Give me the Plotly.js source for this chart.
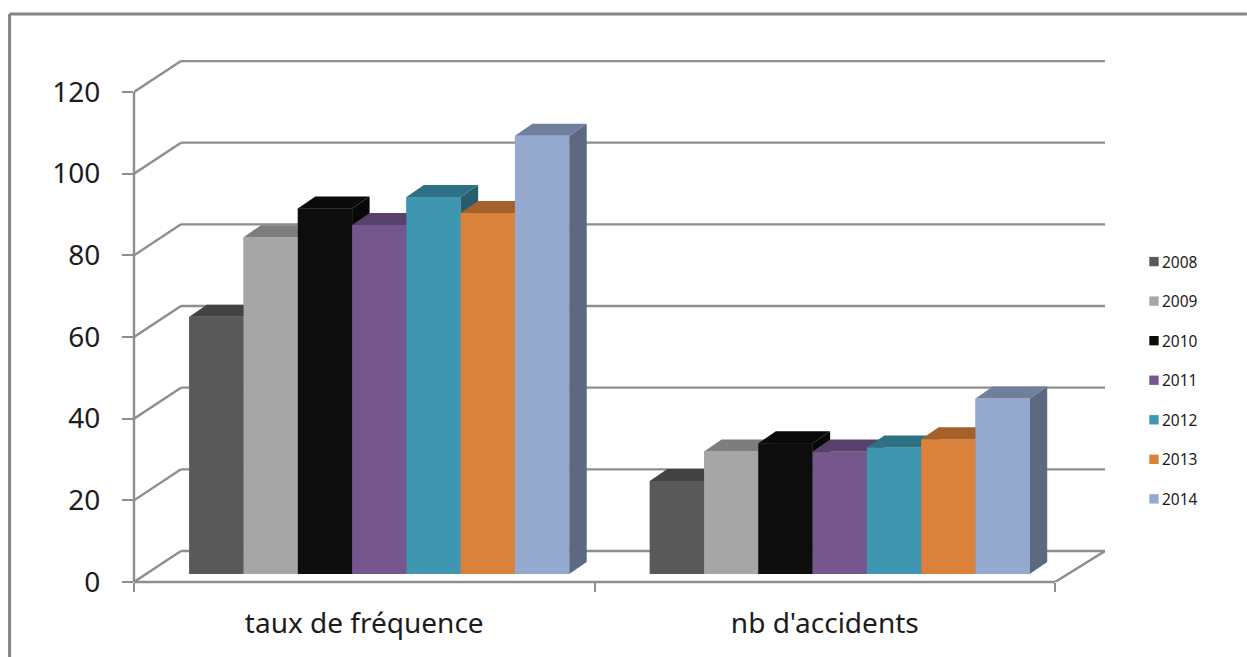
<!DOCTYPE html>
<html>
<head>
<meta charset="utf-8">
<script src="https://cdn.plot.ly/plotly-3.0.1.min.js"></script>
<style>
html,body{margin:0;padding:0;background:#fff}#chart{width:1247px;height:657px}
.legend .legendpoints path{transform:translate(32px,0px) scale(0.78)}
</style>
</head>
<body>
<div id="chart"></div>
<script>
var categories = ["taux de fréquence", "nb d'accidents"];
var years = ["2008", "2009", "2010", "2011", "2012", "2013", "2014"];
var values2008 = [63, 22.8];
var values2009 = [82.5, 30];
var values2010 = [89.5, 32];
var values2011 = [85.5, 30];
var values2012 = [92.3, 31];
var values2013 = [88.4, 33];
var values2014 = [107.3, 43];
var seriesValues = [values2008, values2009, values2010, values2011, values2012, values2013, values2014];
var colors = ["#595959", "#A6A6A6", "#0D0D0D", "#75578D", "#3F96B0", "#DA813B", "#95A9CF"];
var yTicks = [0, 20, 40, 60, 80, 100, 120];

var W = 1247, H = 657, L = 133.5, R = 1105, T = 60, B = 582;
var xUnit = 460.75, yUnit = 490 / 120;
var wallDx = 47 / xUnit, wallDy = 31 / yUnit;
var barDx = 17.5 / xUnit, barDy = 12 / yUnit;
var lift = 8 / yUnit, shift = 15 / xUnit, gap = 0.175;
var barW = (1 - gap) / years.length;
var gridColor = "#8E8E8E";

function shade(hex, k) {
  var n = parseInt(hex.slice(1), 16);
  return "rgb(" + [(n >> 16) & 255, (n >> 8) & 255, n & 255].map(function (c) { return Math.round(c * k); }).join(",") + ")";
}
function poly(color, xs, ys) {
  return {type: "scatter", mode: "lines", x: xs, y: ys, fill: "toself", fillcolor: color,
          line: {width: 0, color: color}, hoverinfo: "skip", showlegend: false};
}

var traces = [];
years.forEach(function (yr, i) {
  traces.push({type: "bar", name: yr, legendgroup: yr,
    x: categories.map(function (c, k) { return k + shift; }),
    y: seriesValues[i], base: lift, marker: {color: colors[i], line: {width: 0}},
    customdata: categories, hovertemplate: "%{customdata}<br>" + yr + " : %{y}<extra></extra>"});
});
years.forEach(function (yr, i) {
  var sx = [], sy = [], tx = [], ty = [], fx = [], fy = [];
  seriesValues[i].forEach(function (v, k) {
    var x0 = k + shift - (1 - gap) / 2 + i * barW, x1 = x0 + barW, top = v + lift;
    sx.push(x1, x1 + barDx, x1 + barDx, x1, x1, null);
    sy.push(lift, lift + barDy, top + barDy, top, lift, null);
    tx.push(x0, x0 + barDx, x1 + barDx, x1, x0, null);
    ty.push(top, top + barDy, top + barDy, top, top, null);
    fx.push(x0, x1, x1, x0, x0, null);
    fy.push(lift, lift, top, top, lift, null);
  });
  traces.push(poly(shade(colors[i], 0.62), sx, sy));
  traces.push(poly(shade(colors[i], 0.75), tx, ty));
  traces.push(poly(colors[i], fx, fy));
});

var xMin = -0.5, xMax = 1.5, xEnd = xMin + (R - L) / xUnit;
var shapes = [];
function seg(x0, y0, x1, y1, xref, yref) {
  shapes.push({type: "line", layer: "below", xref: xref || "x", yref: yref || "y", x0: x0, y0: y0, x1: x1, y1: y1,
               line: {color: gridColor, width: 2.4}});
}
yTicks.forEach(function (v) {
  seg(xMin, v, xMin + wallDx, v + wallDy);
  seg(xMin + wallDx, v + wallDy, xEnd, v + wallDy);
});
seg(xMax, 0, xEnd, wallDy);
seg(0, 0, 0, yTicks[yTicks.length - 1], "paper", "y");
seg(xMin, 0, xMax, 0, "x", "paper");
function px(v) { return (v - L) / (R - L); }
function py(v) { return (B - v) / (B - T); }
shapes.push({type: "line", xref: "paper", yref: "paper", x0: px(9), x1: px(W), y0: py(14), y1: py(14), line: {color: "#868686", width: 3}});
shapes.push({type: "line", xref: "paper", yref: "paper", x0: px(9), x1: px(9), y0: py(14), y1: py(H), line: {color: "#868686", width: 3}});

var layout = {
  width: W, height: H, autosize: false,
  paper_bgcolor: "#fff", plot_bgcolor: "rgba(0,0,0,0)",
  margin: {l: L, r: W - R, t: T, b: H - B, pad: 0},
  barmode: "group", bargap: gap, bargroupgap: 0,
  font: {family: "'Noto Sans', sans-serif", color: "#1c1c1c"},
  xaxis: {range: [xMin, xEnd], tickmode: "array", tickvals: [0, 1], ticktext: categories,
          ticks: "", showgrid: false, zeroline: false, showline: false, ticklabelstandoff: 22,
          tickfont: {size: 28, color: "#1c1c1c"},
          minor: {tickmode: "array", tickvals: [-0.5, 0.5, 1.5], ticks: "outside", ticklen: 9, tickwidth: 2, tickcolor: gridColor, showgrid: false}},
  yaxis: {range: [0, (B - T) / yUnit], tickmode: "array", tickvals: yTicks, ticks: "outside", ticklen: 11, tickwidth: 2,
          tickcolor: gridColor, showgrid: false, zeroline: false, showline: false, ticklabelstandoff: 16,
          tickfont: {size: 28, color: "#1c1c1c"}},
  showlegend: true,
  legend: {x: px(1137), y: py(245), xanchor: "left", yanchor: "top", traceorder: "grouped", tracegroupgap: 16.4,
           indentation: -15, font: {size: 15.5, color: "#1c1c1c"}, bgcolor: "rgba(0,0,0,0)", itemclick: false, itemdoubleclick: false},
  shapes: shapes
};
Plotly.newPlot("chart", traces, layout, {displayModeBar: false, staticPlot: true});
</script>
</body>
</html>
